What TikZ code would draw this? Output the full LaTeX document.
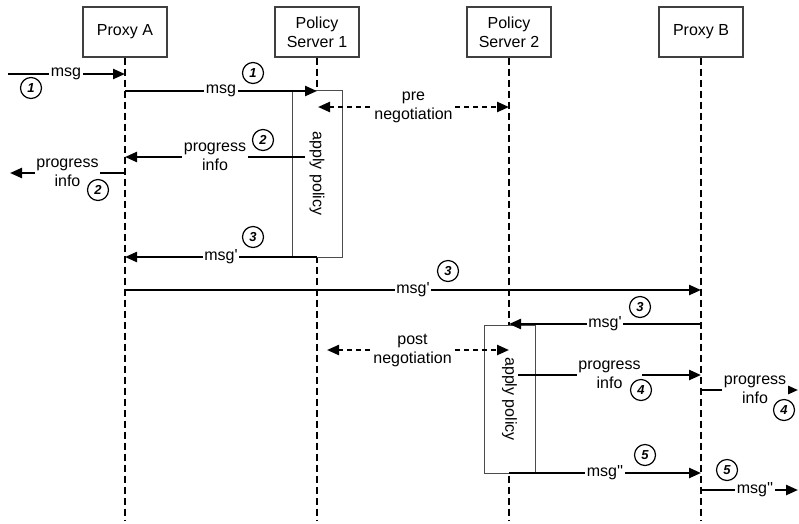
\documentclass[tikz,border=0pt]{standalone}
\usepackage{fontspec}
\setmainfont{Liberation Sans}
\usetikzlibrary{arrows.meta}
\tikzset{
 hdr/.style={draw=black!75, line width=1.1pt, minimum width=84pt, minimum height=50pt, align=center, inner sep=0pt, font=\fontsize{16}{19}\selectfont},
 life/.style={line width=2.4pt, dash pattern=on 7pt off 4pt},
 msgarrow/.style={line width=2.3pt, -{Triangle[length=12pt,width=10pt]}},
 nego/.style={line width=2.3pt, dash pattern=on 5pt off 4pt, {Triangle[length=12pt,width=10pt]}-{Triangle[length=12pt,width=10pt]}},
 lbl/.style={fill=white, inner xsep=1.5pt, inner ysep=0.5pt, align=center, font=\fontsize{16}{19}\selectfont},
 num/.style={circle, draw, line width=1.2pt, minimum size=21pt, inner sep=0pt, font=\fontsize{13}{13}\selectfont\bfseries\itshape},
 policy/.style={draw=black!70, line width=1pt, fill=white, inner sep=0pt, font=\fontsize{16}{19}\selectfont},
}
\begin{document}
\begin{tikzpicture}[x=1pt,y=-1pt]
\useasboundingbox (0,0) rectangle (799,523);
% headers
\node[hdr] (pa) at (125,32) {Proxy A};
\node[hdr] (ps1) at (317,32) {Policy\\Server 1};
\node[hdr] (ps2) at (509,32) {Policy\\Server 2};
\node[hdr] (pb) at (701,32) {Proxy B};
% lifelines
\coordinate (paE) at (125,520);
\coordinate (ps1E) at (317,520);
\coordinate (ps2E) at (509,520);
\coordinate (pbE) at (701,520);
\draw[life] (pa.south) -- (paE);
\draw[life] (ps1.south) -- (ps1E);
\draw[life] (ps2.south) -- (ps2E);
\draw[life] (pb.south) -- (pbE);
% apply policy boxes
\node[policy, rotate=-90, minimum width=167pt, minimum height=50pt] (ap1) at (317,173.5) {apply policy};
\node[policy, rotate=-90, minimum width=148pt, minimum height=51pt] (ap2) at (509.5,399) {apply policy};
% coordinates on lifelines
\coordinate (in1) at (8,74);
\coordinate (pa74) at (125,74);
\coordinate (pa91) at (125,91);
\coordinate (ps1a) at (317,91);
\coordinate (preL) at (318,107);
\coordinate (preR) at (509,107);
\coordinate (ps1p) at (305,157);
\coordinate (pa157) at (125,157);
\coordinate (pa173) at (125,173);
\coordinate (outA) at (10,173);
\coordinate (ps1m) at (317,257);
\coordinate (pa257) at (125,257);
\coordinate (pa290) at (125,290);
\coordinate (pb290) at (701,290);
\coordinate (pb324) at (701,324);
\coordinate (ps2m) at (509,324);
\coordinate (postL) at (327,350);
\coordinate (postR) at (509,350);
\coordinate (ps2p) at (518,375);
\coordinate (pb375) at (701,375);
\coordinate (pb390) at (701,390);
\coordinate (outB1) at (798,390);
\coordinate (ps2n) at (509,473);
\coordinate (pb473) at (701,473);
\coordinate (pb490) at (701,490);
\coordinate (outB2) at (798,490);
% messages
\draw[msgarrow] (in1) -- node[lbl, pos=0.496] (l1) {msg} (pa74);
\node[num] (n1) at (31,88) {1};
\draw[msgarrow] (pa91) -- node[lbl] (l2) {msg} (ps1a);
\node[num] (n2) at (253,73) {1};
\draw[nego] (preL) -- node[lbl] (l3) {pre\\negotiation} (preR);
\draw[msgarrow] (ps1p) -- node[lbl] (l4) {progress\\info} (pa157);
\node[num] (n3) at (263,140) {2};
\draw[msgarrow] (pa173) -- node[lbl] (l5) {progress\\info} (outA);
\node[num] (n4) at (98,190) {2};
\draw[msgarrow] (ps1m) -- node[lbl] (l6) {msg\textquotesingle} (pa257);
\node[num] (n5) at (253,237) {3};
\draw[msgarrow] (pa290) -- node[lbl] (l7) {msg\textquotesingle} (pb290);
\node[num] (n6) at (448,271) {3};
\draw[msgarrow] (pb324) -- node[lbl] (l8) {msg\textquotesingle} (ps2m);
\node[num] (n7) at (640,307) {3};
\draw[nego] (postL) -- node[lbl, pos=0.47] (l9) {post\\negotiation} (postR);
\draw[msgarrow] (ps2p) -- node[lbl] (l10) {progress\\info} (pb375);
\node[num] (n8) at (641,390) {4};
\draw[msgarrow] (pb390) -- node[lbl, pos=0.557] (l11) {progress\\info} (outB1);
\node[num] (n9) at (784,410) {4};
\draw[msgarrow] (ps2n) -- node[lbl] (l12) {msg\textquotesingle\textquotesingle} (pb473);
\node[num] (n10) at (645,455) {5};
\draw[msgarrow] (pb490) -- node[lbl, pos=0.557] (l13) {msg\textquotesingle\textquotesingle} (outB2);
\node[num] (n11) at (727,470) {5};
\end{tikzpicture}
\end{document}
